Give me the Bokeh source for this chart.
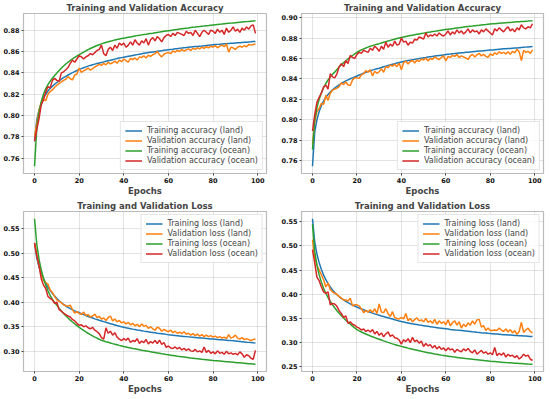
from bokeh.plotting import figure
from bokeh.layouts import column, row
from bokeh.models import Legend, LegendItem, FixedTicker, PrintfTickFormatter, Range1d
from bokeh.embed import file_html
from bokeh.resources import INLINE

epochs = list(range(100))

# ---------- Panel 1 (top-left) accuracy ----------
a_train_land = [0.7760,0.7960,0.8050,0.8110,0.8160,0.8200,0.8230,0.8255,0.8276,0.8294,
 0.8310,0.8326,0.8341,0.8355,0.8368,0.8380,0.8391,0.8402,0.8412,0.8422,
 0.8431,0.8440,0.8448,0.8456,0.8463,0.8470,0.8476,0.8482,0.8487,0.8492,
 0.8497,0.8503,0.8509,0.8514,0.8519,0.8524,0.8529,0.8534,0.8539,0.8543,
 0.8547,0.8551,0.8555,0.8559,0.8563,0.8567,0.8571,0.8575,0.8579,0.8583,
 0.8587,0.8590,0.8593,0.8596,0.8599,0.8602,0.8605,0.8608,0.8611,0.8614,
 0.8617,0.8620,0.8622,0.8625,0.8627,0.8630,0.8632,0.8635,0.8637,0.8640,
 0.8642,0.8644,0.8646,0.8648,0.8650,0.8652,0.8655,0.8657,0.8659,0.8661,
 0.8663,0.8665,0.8667,0.8668,0.8670,0.8672,0.8673,0.8675,0.8677,0.8678,
 0.8680,0.8682,0.8683,0.8685,0.8687,0.8688,0.8690,0.8691,0.8693,0.8695]
a_val_land = [0.7800,0.7930,0.8050,0.8120,0.8150,0.8140,0.8200,0.8225,0.8240,0.8265,
 0.8285,0.8300,0.8315,0.8330,0.8340,0.8365,0.8345,0.8335,0.8380,0.8390,
 0.8445,0.8405,0.8420,0.8430,0.8445,0.8425,0.8440,0.8455,0.8465,0.8480,
 0.8470,0.8490,0.8475,0.8500,0.8485,0.8495,0.8510,0.8490,0.8520,0.8505,
 0.8530,0.8515,0.8500,0.8535,0.8525,0.8540,0.8520,0.8550,0.8545,0.8560,
 0.8540,0.8565,0.8555,0.8570,0.8580,0.8600,0.8570,0.8550,0.8575,0.8585,
 0.8590,0.8580,0.8605,0.8595,0.8610,0.8600,0.8620,0.8605,0.8615,0.8625,
 0.8610,0.8630,0.8620,0.8635,0.8625,0.8640,0.8630,0.8645,0.8635,0.8650,
 0.8640,0.8655,0.8635,0.8650,0.8660,0.8645,0.8670,0.8595,0.8640,0.8635,
 0.8620,0.8640,0.8650,0.8640,0.8655,0.8645,0.8665,0.8660,0.8665,0.8670]
a_train_ocean = [0.7526,0.7880,0.8030,0.8130,0.8200,0.8250,0.8290,0.8322,0.8350,0.8375,
 0.8398,0.8422,0.8444,0.8464,0.8483,0.8500,0.8516,0.8531,0.8545,0.8558,
 0.8570,0.8583,0.8595,0.8607,0.8618,0.8628,0.8638,0.8647,0.8656,0.8664,
 0.8672,0.8679,0.8685,0.8691,0.8697,0.8702,0.8707,0.8712,0.8717,0.8721,
 0.8725,0.8729,0.8733,0.8737,0.8741,0.8745,0.8749,0.8752,0.8756,0.8759,
 0.8762,0.8766,0.8769,0.8772,0.8776,0.8779,0.8782,0.8786,0.8789,0.8792,
 0.8795,0.8798,0.8801,0.8804,0.8807,0.8810,0.8813,0.8816,0.8819,0.8821,
 0.8824,0.8827,0.8829,0.8832,0.8834,0.8837,0.8839,0.8842,0.8844,0.8847,
 0.8849,0.8851,0.8853,0.8855,0.8857,0.8860,0.8862,0.8864,0.8866,0.8868,
 0.8870,0.8872,0.8874,0.8876,0.8878,0.8880,0.8882,0.8884,0.8886,0.8888]
a_val_ocean = [0.7760,0.7870,0.7970,0.8100,0.8150,0.8220,0.8270,0.8260,0.8330,0.8350,
 0.8330,0.8320,0.8400,0.8410,0.8430,0.8450,0.8490,0.8520,0.8500,0.8530,
 0.8560,0.8550,0.8530,0.8550,0.8560,0.8580,0.8570,0.8590,0.8610,0.8620,
 0.8660,0.8580,0.8560,0.8620,0.8640,0.8610,0.8660,0.8630,0.8680,0.8660,
 0.8680,0.8640,0.8660,0.8690,0.8660,0.8710,0.8680,0.8660,0.8700,0.8680,
 0.8720,0.8660,0.8710,0.8730,0.8700,0.8740,0.8720,0.8690,0.8730,0.8750,
 0.8760,0.8740,0.8770,0.8750,0.8780,0.8770,0.8760,0.8750,0.8790,0.8770,
 0.8780,0.8750,0.8800,0.8770,0.8740,0.8780,0.8800,0.8780,0.8760,0.8800,
 0.8790,0.8770,0.8810,0.8780,0.8800,0.8760,0.8820,0.8780,0.8800,0.8830,
 0.8790,0.8810,0.8780,0.8820,0.8800,0.8830,0.8810,0.8840,0.8850,0.8770]

# ---------- Panel 2 (top-right) accuracy ----------
b_train_land = [0.7545,0.7880,0.8000,0.8080,0.8140,0.8185,0.8220,0.8248,0.8272,0.8292,
 0.8310,0.8326,0.8341,0.8355,0.8368,0.8380,0.8391,0.8401,0.8410,0.8419,
 0.8428,0.8438,0.8447,0.8456,0.8464,0.8472,0.8479,0.8486,0.8493,0.8499,
 0.8505,0.8512,0.8519,0.8525,0.8531,0.8537,0.8543,0.8549,0.8555,0.8560,
 0.8565,0.8570,0.8575,0.8579,0.8583,0.8587,0.8591,0.8595,0.8599,0.8603,
 0.8607,0.8610,0.8614,0.8617,0.8620,0.8623,0.8626,0.8629,0.8632,0.8635,
 0.8638,0.8641,0.8643,0.8646,0.8648,0.8651,0.8653,0.8655,0.8657,0.8660,
 0.8662,0.8664,0.8666,0.8668,0.8670,0.8672,0.8674,0.8676,0.8678,0.8680,
 0.8682,0.8684,0.8686,0.8688,0.8690,0.8692,0.8694,0.8695,0.8697,0.8698,
 0.8700,0.8702,0.8703,0.8705,0.8707,0.8709,0.8711,0.8713,0.8715,0.8717]
b_val_land = [0.7760,0.7980,0.8080,0.8110,0.8160,0.8150,0.8240,0.8190,0.8260,0.8290,
 0.8300,0.8310,0.8325,0.8360,0.8345,0.8370,0.8340,0.8335,0.8390,0.8410,
 0.8410,0.8405,0.8440,0.8450,0.8480,0.8465,0.8490,0.8430,0.8475,0.8455,
 0.8470,0.8500,0.8465,0.8520,0.8510,0.8535,0.8525,0.8545,0.8520,0.8555,
 0.8490,0.8560,0.8575,0.8545,0.8570,0.8580,0.8555,0.8585,0.8570,0.8595,
 0.8585,0.8605,0.8575,0.8600,0.8590,0.8615,0.8600,0.8590,0.8610,0.8625,
 0.8575,0.8620,0.8610,0.8630,0.8620,0.8640,0.8610,0.8625,0.8615,0.8605,
 0.8590,0.8625,0.8640,0.8615,0.8635,0.8650,0.8625,0.8640,0.8620,0.8610,
 0.8645,0.8630,0.8655,0.8640,0.8665,0.8650,0.8660,0.8645,0.8665,0.8640,
 0.8670,0.8655,0.8690,0.8665,0.8580,0.8680,0.8660,0.8670,0.8650,0.8685]
b_train_ocean = [0.7708,0.8000,0.8120,0.8200,0.8265,0.8315,0.8355,0.8390,0.8420,0.8445,
 0.8466,0.8492,0.8516,0.8538,0.8559,0.8578,0.8596,0.8613,0.8629,0.8645,
 0.8660,0.8673,0.8684,0.8694,0.8703,0.8711,0.8719,0.8726,0.8733,0.8739,
 0.8745,0.8752,0.8759,0.8765,0.8771,0.8777,0.8783,0.8789,0.8795,0.8801,
 0.8806,0.8811,0.8816,0.8820,0.8824,0.8828,0.8832,0.8836,0.8840,0.8844,
 0.8848,0.8852,0.8856,0.8859,0.8863,0.8866,0.8870,0.8873,0.8877,0.8880,
 0.8883,0.8886,0.8889,0.8892,0.8895,0.8898,0.8901,0.8904,0.8907,0.8910,
 0.8913,0.8916,0.8918,0.8921,0.8923,0.8925,0.8928,0.8930,0.8932,0.8935,
 0.8937,0.8939,0.8941,0.8943,0.8945,0.8947,0.8948,0.8950,0.8952,0.8953,
 0.8955,0.8957,0.8959,0.8960,0.8962,0.8963,0.8965,0.8966,0.8968,0.8969]
b_val_ocean = [0.7890,0.8050,0.8170,0.8220,0.8260,0.8320,0.8340,0.8300,0.8450,0.8420,
 0.8410,0.8450,0.8520,0.8550,0.8520,0.8580,0.8550,0.8630,0.8610,0.8600,
 0.8640,0.8660,0.8650,0.8680,0.8670,0.8660,0.8700,0.8680,0.8720,0.8700,
 0.8670,0.8720,0.8690,0.8760,0.8710,0.8740,0.8720,0.8770,0.8730,0.8740,
 0.8800,0.8760,0.8770,0.8730,0.8760,0.8750,0.8790,0.8780,0.8810,0.8800,
 0.8790,0.8850,0.8810,0.8830,0.8820,0.8840,0.8820,0.8850,0.8830,0.8820,
 0.8840,0.8870,0.8830,0.8860,0.8840,0.8880,0.8850,0.8870,0.8840,0.8860,
 0.8890,0.8850,0.8880,0.8860,0.8870,0.8840,0.8880,0.8860,0.8890,0.8870,
 0.8850,0.8830,0.8890,0.8870,0.8900,0.8880,0.8860,0.8890,0.8910,0.8870,
 0.8890,0.8860,0.8900,0.8880,0.8930,0.8900,0.8890,0.8910,0.8900,0.8940]

# ---------- Panel 3 (bottom-left) loss ----------
c_train_land = [0.5200,0.4900,0.4720,0.4590,0.4480,0.4390,0.4310,0.4240,0.4180,0.4125,
 0.4075,0.4030,0.3990,0.3955,0.3924,0.3896,0.3870,0.3846,0.3825,0.3807,
 0.3790,0.3768,0.3748,0.3729,0.3711,0.3694,0.3678,0.3662,0.3647,0.3633,
 0.3620,0.3605,0.3591,0.3577,0.3564,0.3551,0.3538,0.3525,0.3513,0.3501,
 0.3490,0.3480,0.3471,0.3462,0.3453,0.3445,0.3436,0.3428,0.3420,0.3412,
 0.3405,0.3398,0.3391,0.3384,0.3377,0.3370,0.3364,0.3358,0.3352,0.3346,
 0.3340,0.3335,0.3330,0.3325,0.3320,0.3315,0.3310,0.3305,0.3300,0.3295,
 0.3290,0.3286,0.3282,0.3278,0.3274,0.3270,0.3266,0.3262,0.3258,0.3254,
 0.3250,0.3246,0.3242,0.3238,0.3235,0.3231,0.3227,0.3223,0.3219,0.3216,
 0.3212,0.3207,0.3202,0.3197,0.3192,0.3187,0.3183,0.3179,0.3174,0.3170]
c_val_land = [0.5200,0.4970,0.4750,0.4550,0.4450,0.4400,0.4370,0.4250,0.4200,0.4120,
 0.4050,0.4020,0.3990,0.3950,0.3930,0.3920,0.3940,0.3850,0.3780,0.3810,
 0.3770,0.3750,0.3800,0.3730,0.3750,0.3700,0.3720,0.3760,0.3690,0.3710,
 0.3660,0.3680,0.3630,0.3690,0.3720,0.3620,0.3660,0.3600,0.3630,0.3580,
 0.3600,0.3560,0.3590,0.3540,0.3570,0.3520,0.3550,0.3500,0.3560,0.3510,
 0.3530,0.3470,0.3500,0.3460,0.3430,0.3490,0.3470,0.3410,0.3450,0.3420,
 0.3400,0.3430,0.3380,0.3410,0.3370,0.3390,0.3360,0.3400,0.3350,0.3370,
 0.3330,0.3360,0.3320,0.3350,0.3310,0.3340,0.3300,0.3330,0.3300,0.3320,
 0.3290,0.3310,0.3280,0.3300,0.3270,0.3290,0.3260,0.3340,0.3270,0.3290,
 0.3330,0.3270,0.3250,0.3280,0.3240,0.3260,0.3240,0.3220,0.3240,0.3250]
c_train_ocean = [0.5700,0.5180,0.4880,0.4660,0.4490,0.4350,0.4235,0.4140,0.4060,0.3995,
 0.3940,0.3880,0.3824,0.3772,0.3724,0.3679,0.3637,0.3598,0.3561,0.3525,
 0.3490,0.3457,0.3426,0.3397,0.3369,0.3342,0.3316,0.3291,0.3268,0.3246,
 0.3225,0.3211,0.3197,0.3184,0.3171,0.3158,0.3146,0.3134,0.3122,0.3111,
 0.3100,0.3090,0.3080,0.3070,0.3060,0.3051,0.3042,0.3033,0.3024,0.3016,
 0.3008,0.3000,0.2992,0.2984,0.2976,0.2968,0.2960,0.2952,0.2945,0.2937,
 0.2930,0.2923,0.2916,0.2909,0.2902,0.2896,0.2890,0.2884,0.2878,0.2872,
 0.2866,0.2861,0.2856,0.2851,0.2846,0.2840,0.2835,0.2830,0.2825,0.2820,
 0.2815,0.2811,0.2807,0.2803,0.2799,0.2795,0.2790,0.2786,0.2782,0.2778,
 0.2774,0.2770,0.2766,0.2762,0.2758,0.2754,0.2750,0.2746,0.2742,0.2738]
c_val_ocean = [0.5210,0.4950,0.4750,0.4480,0.4350,0.4280,0.4120,0.4080,0.4050,0.3980,
 0.4000,0.3850,0.3820,0.3780,0.3750,0.3720,0.3700,0.3650,0.3620,0.3570,
 0.3530,0.3540,0.3500,0.3520,0.3480,0.3460,0.3490,0.3430,0.3400,0.3360,
 0.3280,0.3250,0.3480,0.3370,0.3410,0.3330,0.3380,0.3290,0.3250,0.3220,
 0.3260,0.3230,0.3270,0.3180,0.3220,0.3200,0.3260,0.3160,0.3210,0.3180,
 0.3240,0.3150,0.3200,0.3170,0.3220,0.3160,0.3230,0.3140,0.3180,0.3080,
 0.3110,0.3070,0.3060,0.3090,0.3050,0.3080,0.3030,0.3060,0.3020,0.3050,
 0.3010,0.3000,0.3040,0.2990,0.3010,0.2980,0.3090,0.2980,0.3020,0.2960,
 0.2990,0.2950,0.3010,0.2960,0.2980,0.2940,0.3000,0.2950,0.2970,0.2940,
 0.2960,0.2930,0.2990,0.2950,0.2880,0.2930,0.2910,0.2860,0.2840,0.3020]

# ---------- Panel 4 (bottom-right) loss ----------
d_train_land = [0.5560,0.5080,0.4830,0.4650,0.4510,0.4395,0.4300,0.4220,0.4150,0.4090,
 0.4035,0.3990,0.3950,0.3914,0.3882,0.3853,0.3826,0.3801,0.3778,0.3756,
 0.3735,0.3715,0.3696,0.3678,0.3660,0.3643,0.3626,0.3610,0.3594,0.3579,
 0.3565,0.3551,0.3538,0.3525,0.3512,0.3499,0.3486,0.3473,0.3460,0.3447,
 0.3435,0.3425,0.3415,0.3406,0.3397,0.3388,0.3380,0.3372,0.3364,0.3357,
 0.3350,0.3343,0.3336,0.3329,0.3322,0.3315,0.3309,0.3303,0.3297,0.3291,
 0.3285,0.3279,0.3273,0.3268,0.3263,0.3258,0.3253,0.3248,0.3243,0.3238,
 0.3233,0.3228,0.3223,0.3219,0.3214,0.3210,0.3205,0.3201,0.3197,0.3192,
 0.3188,0.3184,0.3180,0.3176,0.3172,0.3168,0.3164,0.3161,0.3158,0.3155,
 0.3152,0.3149,0.3146,0.3143,0.3140,0.3137,0.3134,0.3131,0.3128,0.3125]
d_val_land = [0.5130,0.4750,0.4600,0.4500,0.4400,0.4300,0.4150,0.4230,0.4100,0.4050,
 0.4020,0.4000,0.3950,0.3920,0.3880,0.3880,0.3860,0.3920,0.3760,0.3780,
 0.3780,0.3760,0.3700,0.3620,0.3660,0.3630,0.3680,0.3620,0.3700,0.3600,
 0.3800,0.3630,0.3620,0.3700,0.3600,0.3540,0.3640,0.3520,0.3500,0.3490,
 0.3520,0.3490,0.3600,0.3450,0.3500,0.3430,0.3480,0.3510,0.3450,0.3470,
 0.3430,0.3500,0.3420,0.3450,0.3400,0.3480,0.3380,0.3450,0.3400,0.3430,
 0.3370,0.3470,0.3350,0.3410,0.3450,0.3360,0.3430,0.3300,0.3380,0.3330,
 0.3410,0.3360,0.3450,0.3380,0.3470,0.3480,0.3320,0.3350,0.3250,0.3300,
 0.3250,0.3250,0.3260,0.3250,0.3300,0.3260,0.3230,0.3280,0.3220,0.3270,
 0.3200,0.3250,0.3170,0.3230,0.3420,0.3210,0.3260,0.3300,0.3230,0.3200]
d_train_ocean = [0.5450,0.4880,0.4600,0.4400,0.4250,0.4125,0.4020,0.3930,0.3850,0.3782,
 0.3720,0.3660,0.3605,0.3554,0.3507,0.3463,0.3421,0.3381,0.3342,0.3305,
 0.3270,0.3244,0.3220,0.3198,0.3177,0.3157,0.3138,0.3120,0.3103,0.3086,
 0.3070,0.3053,0.3036,0.3020,0.3004,0.2989,0.2974,0.2960,0.2947,0.2934,
 0.2922,0.2910,0.2898,0.2886,0.2875,0.2864,0.2853,0.2842,0.2831,0.2820,
 0.2810,0.2801,0.2792,0.2783,0.2774,0.2765,0.2757,0.2749,0.2741,0.2734,
 0.2727,0.2720,0.2713,0.2706,0.2700,0.2694,0.2688,0.2682,0.2676,0.2670,
 0.2665,0.2660,0.2655,0.2650,0.2645,0.2640,0.2635,0.2630,0.2625,0.2620,
 0.2615,0.2611,0.2607,0.2603,0.2599,0.2595,0.2591,0.2587,0.2584,0.2581,
 0.2578,0.2575,0.2572,0.2569,0.2566,0.2563,0.2560,0.2557,0.2555,0.2553]
d_val_ocean = [0.4920,0.4650,0.4350,0.4280,0.4150,0.4050,0.4020,0.4050,0.3780,0.3810,
 0.3800,0.3750,0.3660,0.3600,0.3520,0.3550,0.3400,0.3430,0.3380,0.3360,
 0.3320,0.3300,0.3260,0.3280,0.3230,0.3260,0.3220,0.3270,0.3180,0.3230,
 0.3150,0.3200,0.3120,0.3180,0.3220,0.3130,0.3160,0.3100,0.3090,0.3050,
 0.2970,0.3060,0.3020,0.3080,0.3000,0.3110,0.3020,0.3050,0.2990,0.3030,
 0.2920,0.2980,0.2930,0.2960,0.2890,0.2940,0.2870,0.2920,0.2860,0.2890,
 0.2830,0.2890,0.2850,0.2870,0.2800,0.2860,0.2830,0.2810,0.2870,0.2830,
 0.2880,0.2820,0.2790,0.2850,0.2760,0.2800,0.2840,0.2780,0.2810,0.2760,
 0.2790,0.2750,0.2900,0.2730,0.2780,0.2740,0.2790,0.2700,0.2760,0.2720,
 0.2740,0.2690,0.2730,0.2660,0.2700,0.2760,0.2720,0.2740,0.2660,0.2630]

acc_labels = ["Training accuracy (land)", "Validation accuracy (land)",
              "Training accuracy (ocean)", "Validation accuracy (ocean)"]
loss_labels = ["Training loss (land)", "Validation loss (land)",
               "Training loss (ocean)", "Validation loss (ocean)"]
acc_title = "Training and Validation Accuracy"
loss_title = "Training and Validation Loss"
x_ticks = [0, 20, 40, 60, 80, 100]
y_ticks_a = [0.76, 0.78, 0.80, 0.82, 0.84, 0.86, 0.88]
y_ticks_b = [0.76, 0.78, 0.80, 0.82, 0.84, 0.86, 0.88, 0.90]
y_ticks_c = [0.30, 0.35, 0.40, 0.45, 0.50, 0.55]
y_ticks_d = [0.25, 0.30, 0.35, 0.40, 0.45, 0.50, 0.55]

COLORS = ["#1f77b4", "#ff7f0e", "#2ca02c", "#d62728"]
FONT = "DejaVu Sans"


def make(title, series, labels, yticks, legend_loc, width, height,
         mb_left, mb_right):
    lo = min(min(s) for s in series)
    hi = max(max(s) for s in series)
    pad = (hi - lo) * 0.05
    xpad = (epochs[-1] - epochs[0]) * 0.05
    p = figure(width=width, height=height, output_backend="svg",
               toolbar_location=None,
               x_range=Range1d(epochs[0] - xpad, epochs[-1] + xpad),
               y_range=Range1d(lo - pad, hi + pad),
               min_border_left=mb_left, min_border_right=mb_right,
               min_border_top=0, min_border_bottom=0)
    p.title.text = title
    p.title.text_font = FONT
    p.title.text_font_size = "8.5px"
    p.title.text_font_style = "bold"
    p.title.align = "center"
    p.title.standoff = 1
    p.title.offset = 0

    items = []
    for s, lab, col in zip(series, labels, COLORS):
        r = p.line(epochs, s, line_color=col, line_width=1.5)
        items.append(LegendItem(label=lab, renderers=[r]))
    leg = Legend(items=items, location=legend_loc)
    leg.label_text_font = FONT
    leg.label_text_font_size = "8px"
    leg.label_height = 9
    leg.glyph_height = 9
    leg.glyph_width = 17
    leg.label_standoff = 5
    leg.spacing = 1
    leg.padding = 4
    leg.margin = 3
    leg.border_line_color = "#cccccc"
    leg.border_line_width = 1
    leg.background_fill_alpha = 0.85
    p.add_layout(leg, "center")

    p.xaxis.ticker = FixedTicker(ticks=x_ticks)
    p.yaxis.ticker = FixedTicker(ticks=yticks)
    p.yaxis.formatter = PrintfTickFormatter(format="%.2f")
    p.xaxis.axis_label = "Epochs"
    p.xaxis.axis_label_text_font = FONT
    p.xaxis.axis_label_text_font_size = "8.5px"
    p.xaxis.axis_label_text_font_style = "bold"
    p.xaxis.axis_label_standoff = 0
    for ax in (p.xaxis, p.yaxis):
        ax.major_label_text_font = FONT
        ax.major_label_text_font_size = "6.5px"
        ax.major_label_text_font_style = "bold"
        ax.major_label_text_color = "#111111"
        ax.major_label_standoff = 2
        ax.axis_line_color = None
        ax.major_tick_line_color = "#444444"
        ax.major_tick_out = 2
        ax.major_tick_in = 0
        ax.minor_tick_line_color = None
    p.grid.grid_line_color = "#b0b0b0"
    p.grid.grid_line_alpha = 0.35
    p.outline_line_color = "#bbbbbb"
    p.outline_line_width = 1.2
    p.background_fill_color = "white"
    p.border_fill_color = "white"
    return p


p1 = make(acc_title, [a_train_land, a_val_land, a_train_ocean, a_val_ocean],
          acc_labels, y_ticks_a, "bottom_right", 278, 198, 15, 12)
p2 = make(acc_title, [b_train_land, b_val_land, b_train_ocean, b_val_ocean],
          acc_labels, y_ticks_b, "bottom_right", 270, 198, 15, 5)
p3 = make(loss_title, [c_train_land, c_val_land, c_train_ocean, c_val_ocean],
          loss_labels, y_ticks_c, "top_right", 278, 198, 15, 12)
p4 = make(loss_title, [d_train_land, d_val_land, d_train_ocean, d_val_ocean],
          loss_labels, y_ticks_d, "top_right", 270, 198, 15, 5)

layout = column(row(p1, p2), row(p3, p4))
open("out.html", "w").write(file_html(layout, INLINE))
